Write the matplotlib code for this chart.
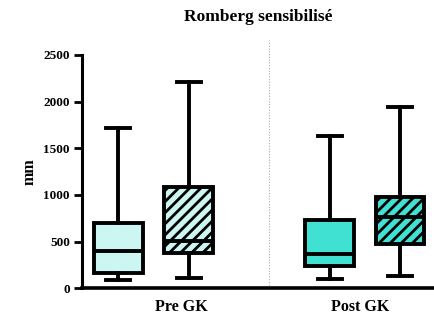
import matplotlib
matplotlib.use("Agg")
import matplotlib.pyplot as plt

# ---- data ----
labels = ["Pre GK A", "Pre GK B", "Post GK A", "Post GK B"]
whislo = [86, 107, 103, 135]
q1 = [161, 375, 242, 475]
med = [403, 510, 368, 761]
q3 = [700, 1089, 732, 982]
whishi = [1718, 2206, 1636, 1940]
positions = [0, 1, 3, 4]
colors = ["#ccf6f2", "#ccf6f2", "#40e0d3", "#40e0d3"]
hatches = [None, "///", None, "///"]
group_labels = ["Pre GK", "Post GK"]
group_pos = [0.89, 3.43]
yticks = [0, 500, 1000, 1500, 2000, 2500]
title = "Romberg sensibilisé"
ylabel = "mm"

plt.rcParams["hatch.linewidth"] = 2.0
plt.rcParams["hatch.color"] = "black"

fig = plt.figure(figsize=(4.34, 3.24), dpi=100)
ax = fig.add_axes([82.3 / 434, 1 - 288.3 / 324, 1 - 82.3 / 434, (288.3 - 55) / 324])

stats = []
for i in range(len(labels)):
    stats.append(dict(label=labels[i], whislo=whislo[i], q1=q1[i], med=med[i],
                      q3=q3[i], whishi=whishi[i], fliers=[]))

bp = ax.bxp(stats, positions=positions, widths=0.69, patch_artist=True,
            showfliers=False, capwidths=0.34,
            boxprops=dict(linewidth=2.8, edgecolor="black"),
            medianprops=dict(linewidth=2.8, color="black"),
            whiskerprops=dict(linewidth=2.8, color="black"),
            capprops=dict(linewidth=2.8, color="black"))
for patch, c, h in zip(bp["boxes"], colors, hatches):
    patch.set_facecolor(c)
    if h:
        patch.set_hatch(h)

ax.set_xlim(-0.51, 4.48)
ax.set_ylim(0, 2500)

# divider
ax.plot([2.14, 2.14], [0, 2660], linestyle=(0, (1, 1.5)), color="#aaaaaa",
        linewidth=0.8, clip_on=False, zorder=0)

for s in ["top", "right"]:
    ax.spines[s].set_visible(False)
ax.spines["left"].set_linewidth(2.2)
ax.spines["bottom"].set_linewidth(2.6)

font = "Liberation Serif"
ax.set_yticks(yticks)
ax.set_yticklabels([str(v) for v in yticks], fontfamily=font, fontweight="bold", fontsize=9.5)
ax.tick_params(axis="y", length=6, width=2, pad=3)
ax.set_xticks(group_pos)
ax.set_xticklabels(group_labels, fontfamily=font, fontweight="bold", fontsize=11.5)
ax.tick_params(axis="x", length=0, pad=8)

ax.set_ylabel(ylabel, fontfamily=font, fontweight="bold", fontsize=11.5, labelpad=4)
fig.text(258 / 434, 1 - 17 / 324, title, ha="center", va="center",
         fontfamily=font, fontweight="bold", fontsize=12.5)

fig.savefig("out.png", dpi=100)
